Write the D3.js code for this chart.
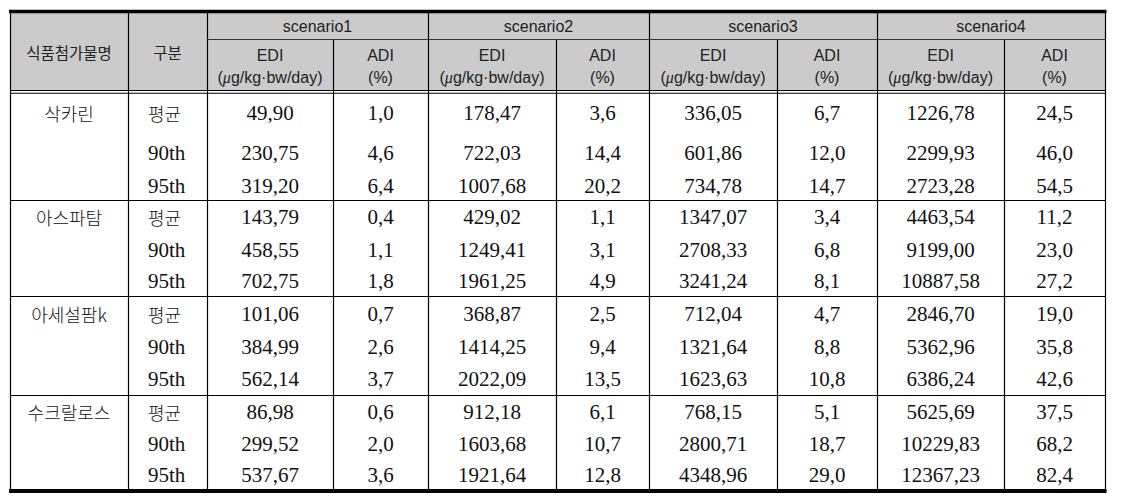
<!DOCTYPE html>
<html>
<head>
<meta charset="utf-8">
<script src="https://cdn.jsdelivr.net/npm/d3@7"></script>
<style>
  html, body { margin: 0; padding: 0; background: #fff; }
  svg { display: block; }
</style>
</head>
<body>
<svg id="table" width="1122" height="501"></svg>
<script>
// table content
var additives = ['삭카린', '아스파탐', '아세설팜k', '수크랄로스'];
var stats = ['평균', '90th', '95th'];
var scenarios = ['scenario1', 'scenario2', 'scenario3', 'scenario4'];

var scenario1EDI = [49.90, 230.75, 319.20, 143.79, 458.55, 702.75, 101.06, 384.99, 562.14, 86.98, 299.52, 537.67];
var scenario1ADI = [1.0, 4.6, 6.4, 0.4, 1.1, 1.8, 0.7, 2.6, 3.7, 0.6, 2.0, 3.6];
var scenario2EDI = [178.47, 722.03, 1007.68, 429.02, 1249.41, 1961.25, 368.87, 1414.25, 2022.09, 912.18, 1603.68, 1921.64];
var scenario2ADI = [3.6, 14.4, 20.2, 1.1, 3.1, 4.9, 2.5, 9.4, 13.5, 6.1, 10.7, 12.8];
var scenario3EDI = [336.05, 601.86, 734.78, 1347.07, 2708.33, 3241.24, 712.04, 1321.64, 1623.63, 768.15, 2800.71, 4348.96];
var scenario3ADI = [6.7, 12.0, 14.7, 3.4, 6.8, 8.1, 4.7, 8.8, 10.8, 5.1, 18.7, 29.0];
var scenario4EDI = [1226.78, 2299.93, 2723.28, 4463.54, 9199.00, 10887.58, 2846.70, 5362.96, 6386.24, 5625.69, 10229.83, 12367.23];
var scenario4ADI = [24.5, 46.0, 54.5, 11.2, 23.0, 27.2, 19.0, 35.8, 42.6, 37.5, 68.2, 82.4];

var ediSeries = [scenario1EDI, scenario2EDI, scenario3EDI, scenario4EDI];
var adiSeries = [scenario1ADI, scenario2ADI, scenario3ADI, scenario4ADI];

var headName = '식품첨가물명';
var headStat = '구분';
var ediLabel = 'EDI';
var adiLabel = 'ADI';

// layout
var colKeys = ['name', 'stat', 'e1', 'a1', 'e2', 'a2', 'e3', 'a3', 'e4', 'a4'];
var colEdges = [10, 128, 207, 333, 428, 556, 649, 777, 877, 1004, 1105];
var tableTop = 11.5, scenRowBottom = 39, headBottom = 90.5;
var groupRowHeights = [[42, 38, 28], [34, 32, 30], [36, 30, 33], [34, 30, 31]];
var bodyTop = 93;

var x = d3.scaleOrdinal().domain(colKeys).range(colEdges.slice(0, -1));
var xEnd = d3.scaleOrdinal().domain(colKeys).range(colEdges.slice(1));
function xMid(k) { return (x(k) + xEnd(k)) / 2; }

var fmtEdi = function (v) { return d3.format('.2f')(v).replace('.', ','); };
var fmtAdi = function (v) { return d3.format('.1f')(v).replace('.', ','); };

var svg = d3.select('#table');
var left = colEdges[0], right = colEdges[colEdges.length - 1];

// header background
svg.append('rect')
  .attr('x', left).attr('y', tableTop)
  .attr('width', right - left).attr('height', headBottom - tableTop)
  .attr('fill', '#cbcbcb');

// rows
var rows = [];
var y0 = bodyTop;
groupRowHeights.forEach(function (hs, g) {
  hs.forEach(function (h, s) {
    rows.push({ g: g, s: s, i: g * 3 + s, top: y0, h: h, mid: y0 + h / 2 - 1, first: s === 0 });
    y0 += h;
  });
});
var bodyBottom = y0;

var lines = svg.append('g').attr('stroke', '#000').attr('fill', 'none');

// group separators
var groupTops = rows.filter(function (r) { return r.first && r.g > 0; });
lines.selectAll('line.gsep').data(groupTops).enter().append('line')
  .attr('class', 'gsep')
  .attr('x1', left).attr('x2', right)
  .attr('y1', function (d) { return d.top - 0.5; })
  .attr('y2', function (d) { return d.top - 0.5; })
  .attr('stroke-width', 1.2);

// vertical lines, header and body
lines.selectAll('line.v').data(colEdges).enter().append('line')
  .attr('class', 'v')
  .attr('x1', function (d) { return d + 0.5; })
  .attr('x2', function (d) { return d + 0.5; })
  .attr('y1', function (d, i) {
    // the EDI/ADI dividers start under the scenario row
    return (i >= 3 && i <= 9 && i % 2 === 1) ? scenRowBottom : tableTop;
  })
  .attr('y2', bodyBottom)
  .attr('stroke-width', 1.2);

// scenario row bottom
lines.append('line')
  .attr('x1', colEdges[2]).attr('x2', right)
  .attr('y1', scenRowBottom + 0.5).attr('y2', scenRowBottom + 0.5)
  .attr('stroke', '#333').attr('stroke-width', 1.2);

// double line under header
[headBottom, headBottom + 2.8].forEach(function (yy) {
  lines.append('line')
    .attr('x1', left).attr('x2', right + 0.5)
    .attr('y1', yy).attr('y2', yy)
    .attr('stroke-width', 1.1);
});

// thick top and bottom rules
lines.append('line')
  .attr('x1', left - 1).attr('x2', right + 1.5)
  .attr('y1', tableTop).attr('y2', tableTop)
  .attr('stroke-width', 3.5);
lines.append('line')
  .attr('x1', left - 1).attr('x2', right + 1.5)
  .attr('y1', bodyBottom).attr('y2', bodyBottom)
  .attr('stroke-width', 4);

// header text
var head = svg.append('g')
  .attr('font-family', '"Liberation Sans", Arial, sans-serif')
  .attr('font-size', 16)
  .attr('fill', '#222')
  .attr('text-anchor', 'middle')
  .attr('dominant-baseline', 'central');

head.append('text')
  .attr('x', xMid('name')).attr('y', 52)
  .attr('font-family', '"Noto Sans CJK KR", sans-serif')
  .attr('font-size', 15.5)
  .text(headName);
head.append('text')
  .attr('x', xMid('stat')).attr('y', 52)
  .attr('font-family', '"Noto Sans CJK KR", sans-serif')
  .attr('font-size', 15.5)
  .text(headStat);

head.selectAll('text.scen').data(scenarios).enter().append('text')
  .attr('class', 'scen')
  .attr('x', function (d, i) { return (x('e' + (i + 1)) + xEnd('a' + (i + 1))) / 2; })
  .attr('y', 26)
  .text(function (d) { return d; });

scenarios.forEach(function (s, i) {
  var ek = 'e' + (i + 1), ak = 'a' + (i + 1);
  head.append('text').attr('x', xMid(ek)).attr('y', 55).text(ediLabel);
  var unit = head.append('text').attr('x', xMid(ek)).attr('y', 77);
  unit.append('tspan').text('(');
  unit.append('tspan').attr('font-family', '"Liberation Serif", serif').attr('font-style', 'italic').text('μ');
  unit.append('tspan').text('g/kg·bw/day)');
  head.append('text').attr('x', xMid(ak)).attr('y', 55).text(adiLabel);
  head.append('text').attr('x', xMid(ak)).attr('y', 77).text('(%)');
});

// body text
var body = svg.append('g')
  .attr('font-family', '"Liberation Serif", "Times New Roman", serif')
  .attr('font-size', 21)
  .attr('fill', '#111')
  .attr('dominant-baseline', 'central');

body.selectAll('text.name').data(rows.filter(function (r) { return r.first; })).enter().append('text')
  .attr('class', 'name')
  .attr('x', xMid('name'))
  .attr('y', function (d) { return d.mid; })
  .attr('text-anchor', 'middle')
  .attr('font-family', '"Noto Sans CJK KR", sans-serif')
  .attr('font-size', 18)
  .attr('font-weight', 300)
  .text(function (d) { return additives[d.g]; });

body.selectAll('text.stat').data(rows).enter().append('text')
  .attr('class', 'stat')
  .attr('x', x('stat') + 20)
  .attr('y', function (d) { return d.mid; })
  .attr('font-family', function (d) { return d.s === 0 ? '"Noto Sans CJK KR", sans-serif' : null; })
  .attr('font-size', function (d) { return d.s === 0 ? 18 : null; })
  .attr('font-weight', function (d) { return d.s === 0 ? 300 : null; })
  .text(function (d) { return stats[d.s]; });

scenarios.forEach(function (s, k) {
  var ek = 'e' + (k + 1), ak = 'a' + (k + 1);
  body.selectAll('text.' + ek).data(rows).enter().append('text')
    .attr('class', ek)
    .attr('x', xMid(ek))
    .attr('y', function (d) { return d.mid; })
    .attr('text-anchor', 'middle')
    .text(function (d) { return fmtEdi(ediSeries[k][d.i]); });
  body.selectAll('text.' + ak).data(rows).enter().append('text')
    .attr('class', ak)
    .attr('x', xMid(ak))
    .attr('y', function (d) { return d.mid; })
    .attr('text-anchor', 'middle')
    .text(function (d) { return fmtAdi(adiSeries[k][d.i]); });
});
</script>
</body>
</html>
